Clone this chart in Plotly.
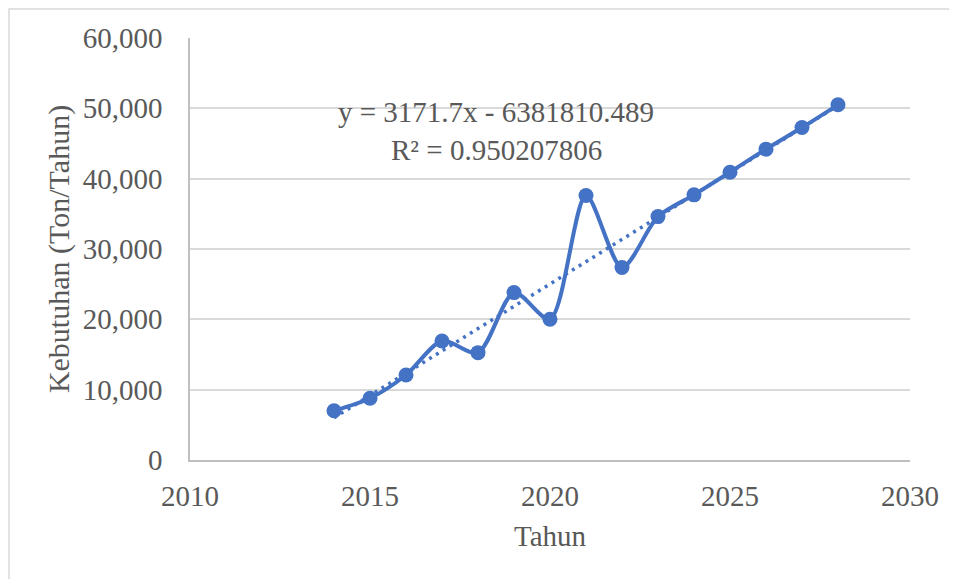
import plotly.graph_objects as go

years = [2014, 2015, 2016, 2017, 2018, 2019, 2020, 2021, 2022, 2023, 2024, 2025, 2026, 2027, 2028]
kebutuhan = [7010, 8780, 12090, 16930, 15260, 23800, 20010, 37600, 27360, 34610, 37700, 40920, 44200, 47270, 50500]
trend_slope = 3171.7
trend_intercept = -6381810.489
r_squared = "0.950207806"

trend_x = [years[0], years[-1]]
trend_y = [trend_slope * x + trend_intercept for x in trend_x]

BLUE = "#4472C4"
GRAY_TXT = "#595959"
FONT = "Liberation Serif"

fig = go.Figure()
fig.add_trace(go.Scatter(
    x=trend_x, y=trend_y, mode="lines",
    line=dict(color=BLUE, width=3.5, dash="3px,5px"),
    showlegend=False, hoverinfo="skip"))
fig.add_trace(go.Scatter(
    x=years, y=kebutuhan, mode="lines+markers",
    line=dict(color=BLUE, width=4, shape="spline", smoothing=0.8),
    marker=dict(color=BLUE, size=15),
    showlegend=False))

fig.add_annotation(x=2018.5, y=49520, xref="x", yref="y",
                   text=f"y = {trend_slope}x - {abs(trend_intercept)}",
                   showarrow=False, font=dict(family=FONT, size=29, color=GRAY_TXT))
fig.add_annotation(x=2018.5, y=44080, xref="x", yref="y",
                   text=f"R² = {r_squared}",
                   showarrow=False, font=dict(family=FONT, size=29, color=GRAY_TXT))

# outer chart border
fig.add_shape(type="rect", xref="paper", yref="paper",
              x0=-0.2514, x1=1.3, y0=-0.5, y1=1.0687,
              line=dict(color="#D9D9D9", width=1.5), layer="below")

fig.update_layout(
    width=957, height=579,
    margin=dict(l=182, r=55, t=30, b=127),
    paper_bgcolor="white", plot_bgcolor="white",
    font=dict(family=FONT, size=29, color=GRAY_TXT),
    xaxis=dict(range=[2010, 2030], dtick=5, tick0=2010,
               showgrid=False, showline=True, linecolor="#BFBFBF", linewidth=1.5,
               ticks="", ticklabelstandoff=9, zeroline=False,
               tickfont=dict(size=29),
               title=dict(text="Tahun", font=dict(size=29, color=GRAY_TXT), standoff=15)),
    yaxis=dict(range=[0, 60000], dtick=10000, tickformat=",",
               showgrid=True, gridcolor="#D9D9D9", gridwidth=1.5,
               showline=True, linecolor="#BFBFBF", linewidth=1.5,
               ticks="", ticklabelstandoff=20, zeroline=False,
               tickfont=dict(size=29),
               title=dict(text="Kebutuhan (Ton/Tahun)", font=dict(size=30, color=GRAY_TXT), standoff=4)),
)

fig.write_html("out.html")
